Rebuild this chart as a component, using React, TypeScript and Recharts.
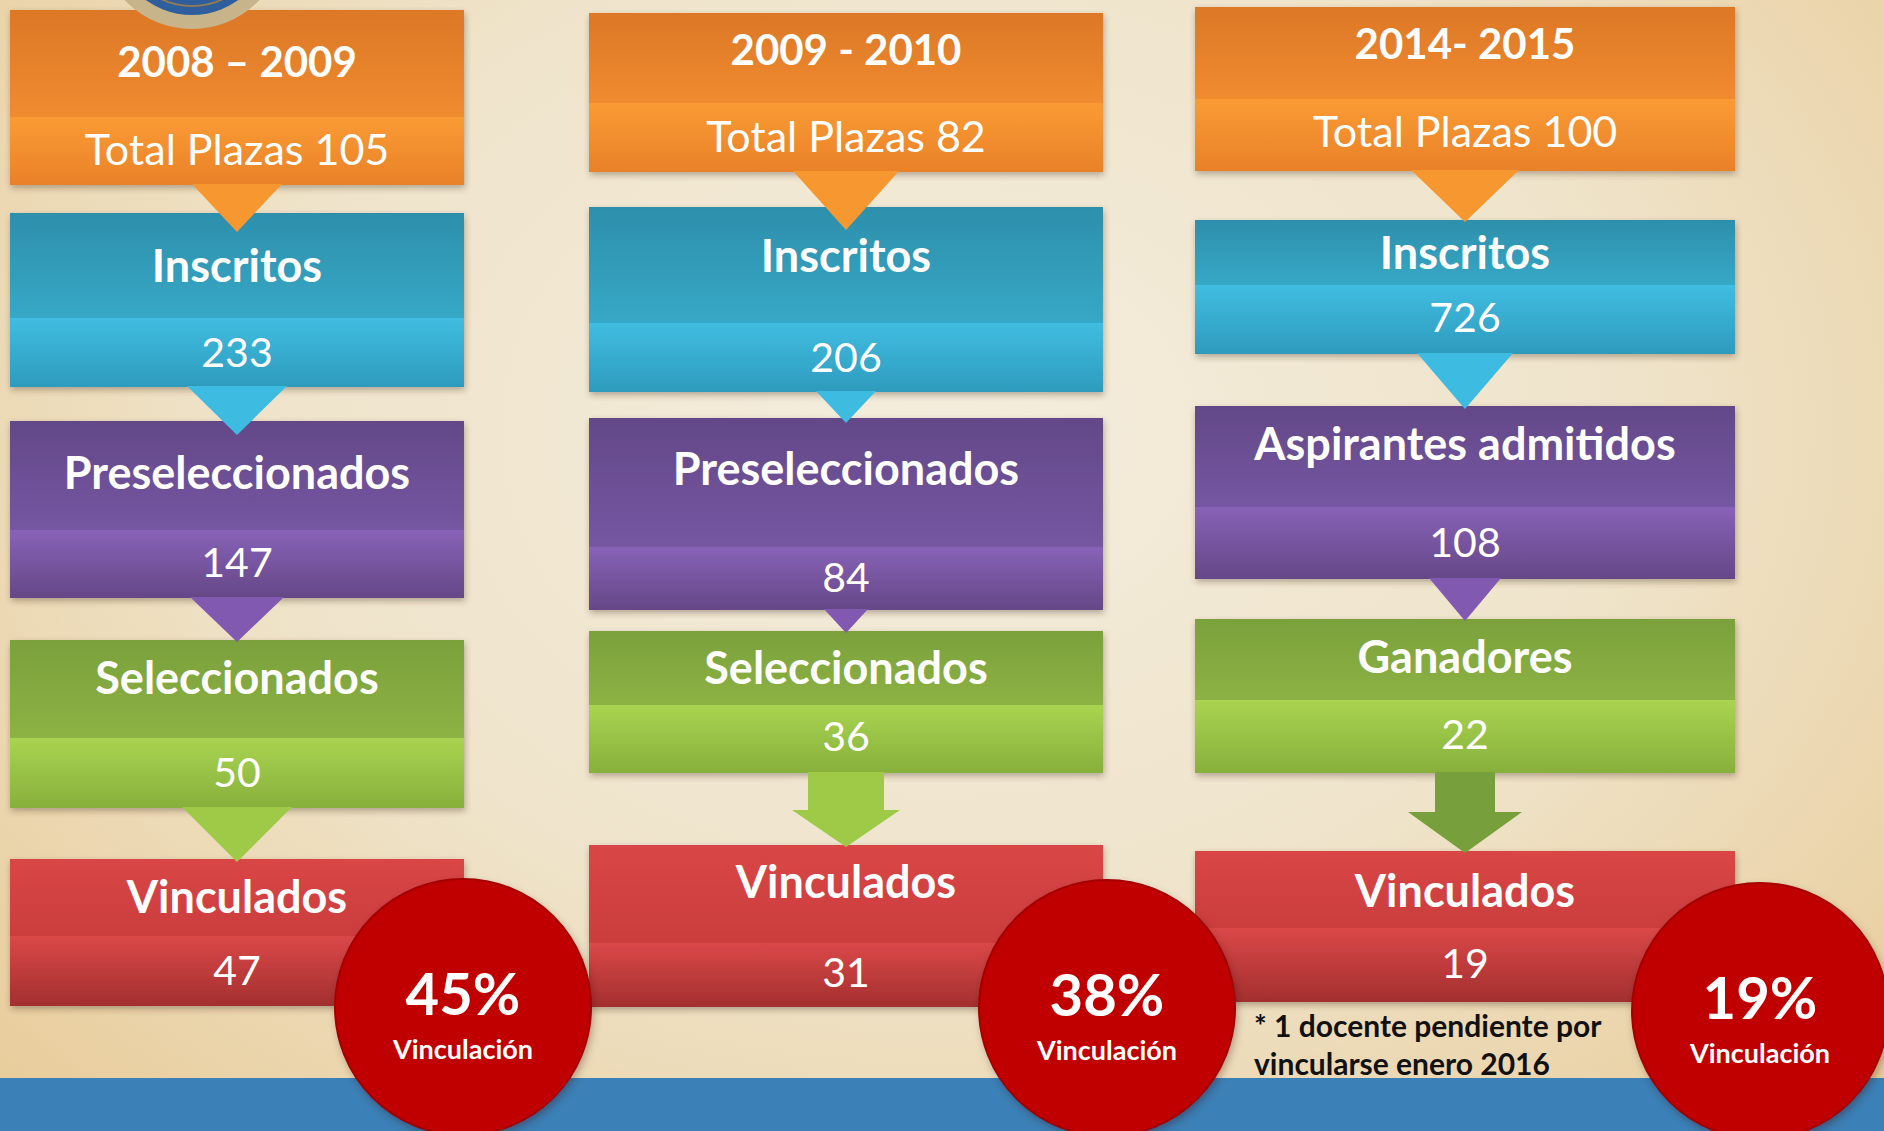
import React from 'react';
import { ScatterChart, Scatter, XAxis, YAxis } from 'recharts';

document.body.style.margin = '0';

const PERIODS = ['2008 – 2009', '2009 - 2010', '2014- 2015'];
const TOTAL_PLAZAS = [105, 82, 100];
const STAGE_LABELS = [
  ['Inscritos', 'Preseleccionados', 'Seleccionados', 'Vinculados'],
  ['Inscritos', 'Preseleccionados', 'Seleccionados', 'Vinculados'],
  ['Inscritos', 'Aspirantes admitidos', 'Ganadores', 'Vinculados'],
];
const STAGE_VALUES = [
  [233, 147, 50, 47],
  [206, 84, 36, 31],
  [726, 108, 22, 19],
];
const VINCULACION = [45, 38, 19];
const NOTE_LINES = ['* 1 docente pendiente por', 'vincularse enero 2016'];
const NOTE_COLUMN = 2;

const boxes = PERIODS.flatMap((period, col) => [
  { col, stage: 0, title: period, value: `Total Plazas ${TOTAL_PLAZAS[col]}` },
  ...STAGE_LABELS[col].map((label, i) => ({
    col,
    stage: i + 1,
    title: label,
    value: String(STAGE_VALUES[col][i]),
  })),
]);
const arrows = boxes.filter((b) => b.stage < 4);
const circles = VINCULACION.map((pct, col) => ({ col, stage: 4, pct }));
const logo = [{ col: 0, stage: 0 }];

// layout (relative to the scaled stage centre)
const COL_HALF = [227, 257, 270];
const COL_DX = [0, -5, 0];
// [top, split, bottom, titleBaseline, valueBaseline]
const BOX = [
  [[-83, 24, 92, -16, 72], [-88, 17, 86, -19, 66], [-88, 21, 89, -20, 68], [-77, 21, 91, -23, 70], [-66, 11, 81, -12, 60]],
  [[-80, 10, 79, -28, 59], [-94, 22, 91, -29, 71], [-91, 38, 101, -24, 83], [-86, -12, 56, -33, 34], [-80, 18, 82, -27, 62]],
  [[-86, 6, 78, -34, 54], [-81, -16, 53, -32, 31], [-103, -2, 70, -49, 48], [-98, -17, 56, -44, 32], [-74, 3, 77, -18, 53]],
];
// [halfWidth, headHeight, stemHalf, stemHeight, colour]
const ARROW: any[][] = [
  [[45, 47], [50, 48], [47, 44], [55, 54]],
  [[53, 58], [30, 31], [22, 23], [54, 37, 38, 37]],
  [[54, 51], [48, 55], [36, 42], [57, 41, 30, 39, '#779F3B']],
];
const CIRCLE = [[-1, 1], [4, 1], [25, 9]];

const PALETTE = [
  { top: ['#DC7826', '#F08B30'], band: ['#FA9B35', '#E98128'], arrow: '#F7972F' },
  { top: ['#2D8FAB', '#37A8C7'], band: ['#40BDE1', '#2E9BBD'], arrow: '#3DBBE0' },
  { top: ['#634888', '#7556A2'], band: ['#8862B7', '#654787'], arrow: '#8259B0' },
  { top: ['#7AA13C', '#8DB244'], band: ['#A9D450', '#87B03C'], arrow: '#9ECA48' },
  { top: ['#D94646', '#CB3D3D'], band: ['#DB4848', '#A32F2F'], arrow: '#C93C3C' },
];

const FONT = 'Lato, "Open Sans", sans-serif';

const BoxShape = (props: any) => {
  const { cx, cy, payload } = props;
  const { col, stage, title, value } = payload;
  const [t, s, b, ty, vy] = BOX[col][stage];
  const mid = cx + COL_DX[col];
  const x = mid - COL_HALF[col];
  const w = COL_HALF[col] * 2;
  const pal = PALETTE[stage];
  const id = `bx${col}${stage}`;
  const header = stage === 0;
  return (
    <g>
      <defs>
        <linearGradient id={`${id}t`} x1="0" y1="0" x2="0" y2="1">
          <stop offset="0%" stopColor={pal.top[0]} />
          <stop offset="100%" stopColor={pal.top[1]} />
        </linearGradient>
        <linearGradient id={`${id}b`} x1="0" y1="0" x2="0" y2="1">
          <stop offset="0%" stopColor={pal.band[0]} />
          <stop offset="100%" stopColor={pal.band[1]} />
        </linearGradient>
        <filter id={`${id}s`} x="-10%" y="-10%" width="120%" height="130%">
          <feGaussianBlur stdDeviation="3" />
        </filter>
      </defs>
      <rect x={x + 1} y={cy + t + 3} width={w} height={b - t} fill="rgba(60,40,20,0.35)" filter={`url(#${id}s)`} />
      <rect x={x} y={cy + t} width={w} height={s - t} fill={`url(#${id}t)`} />
      <rect x={x} y={cy + s} width={w} height={b - s} fill={`url(#${id}b)`} />
      <text x={mid} y={cy + ty} textAnchor="middle" fill="#fff" fontFamily={FONT} fontWeight={700} fontSize={header ? 42 : 45}>
        {title}
      </text>
      <text x={mid} y={cy + vy} textAnchor="middle" fill="#fff" fontFamily={FONT} fontWeight={400} fontSize={header ? 43 : 41}>
        {value}
      </text>
    </g>
  );
};

const ArrowShape = (props: any) => {
  const { cx, cy, payload } = props;
  const { col, stage } = payload;
  const b = cy + BOX[col][stage][2];
  const x = cx + COL_DX[col];
  const [hw, h, sw, sh, colour] = ARROW[col][stage];
  const fill = colour || PALETTE[stage].arrow;
  const d = sw
    ? `M${x - sw},${b - 1} L${x + sw},${b - 1} L${x + sw},${b + sh} L${x + hw},${b + sh} L${x},${b + sh + h} L${x - hw},${b + sh} L${x - sw},${b + sh} Z`
    : `M${x - hw},${b - 1} L${x + hw},${b - 1} L${x},${b + h} Z`;
  return <path d={d} fill={fill} />;
};

const CircleShape = (props: any) => {
  const { cx, cy, payload } = props;
  const { col, pct } = payload;
  const b = cy + BOX[col][4][2];
  const left = cx + COL_DX[col] - COL_HALF[col];
  const ccx = cx + COL_DX[col] + COL_HALF[col] + CIRCLE[col][0];
  const ccy = b + CIRCLE[col][1];
  return (
    <g>
      {col === NOTE_COLUMN &&
        NOTE_LINES.map((line, i) => (
          <text key={i} x={left + 59} y={b + 35 + i * 38} fill="#111" fontFamily={FONT} fontWeight={700} fontSize={30}>
            {line}
          </text>
        ))}
      <defs>
        <filter id={`cs${col}`} x="-20%" y="-20%" width="140%" height="140%">
          <feGaussianBlur stdDeviation="4" />
        </filter>
      </defs>
      <circle cx={ccx + 2} cy={ccy + 4} r={128} fill="rgba(60,0,0,0.35)" filter={`url(#cs${col})`} />
      <circle cx={ccx} cy={ccy} r={128} fill="#C00000" stroke="#A40000" strokeWidth={2} />
      <text x={ccx} y={ccy + 8} textAnchor="middle" fill="#fff" fontFamily={FONT} fontWeight={700} fontSize={58}>
        {`${pct}%`}
      </text>
      <text x={ccx} y={ccy + 52} textAnchor="middle" fill="#fff" fontFamily={FONT} fontWeight={700} fontSize={27}>
        Vinculación
      </text>
    </g>
  );
};

const LogoShape = (props: any) => {
  const { cx, cy } = props;
  const x = cx - 45;
  const y = cy - 157;
  return (
    <g>
      <circle cx={x} cy={y} r={86} fill="#2E5E9C" stroke="#C8B48A" strokeWidth={14} />
      <circle cx={x} cy={y} r={70} fill="none" stroke="#8F7B55" strokeWidth={2} />
    </g>
  );
};

const App: React.FC = () => {
  return (
    <div
      style={{
        width: 1884,
        height: 1131,
        position: 'relative',
        overflow: 'hidden',
        background:
          'linear-gradient(to bottom, rgba(0,0,0,0) 1078px, #3B80B6 1078px), radial-gradient(ellipse at 50% 38%, #F4EDDD 0%, #EFE4CB 50%, #E8CB98 100%)',
      }}
    >
      <ScatterChart width={1884} height={1131} margin={{ top: 0, right: 0, bottom: 0, left: 0 }}>
        <XAxis type="number" dataKey="col" domain={[-0.386, 2.6824]} allowDataOverflow hide />
        <YAxis type="number" dataKey="stage" domain={[-0.4471, 4.9904]} allowDataOverflow reversed hide />
        <Scatter data={boxes} shape={BoxShape} isAnimationActive={false} />
        <Scatter data={arrows} shape={ArrowShape} isAnimationActive={false} />
        <Scatter data={logo} shape={LogoShape} isAnimationActive={false} />
        <Scatter data={circles} shape={CircleShape} isAnimationActive={false} />
      </ScatterChart>
    </div>
  );
};

export default App;
